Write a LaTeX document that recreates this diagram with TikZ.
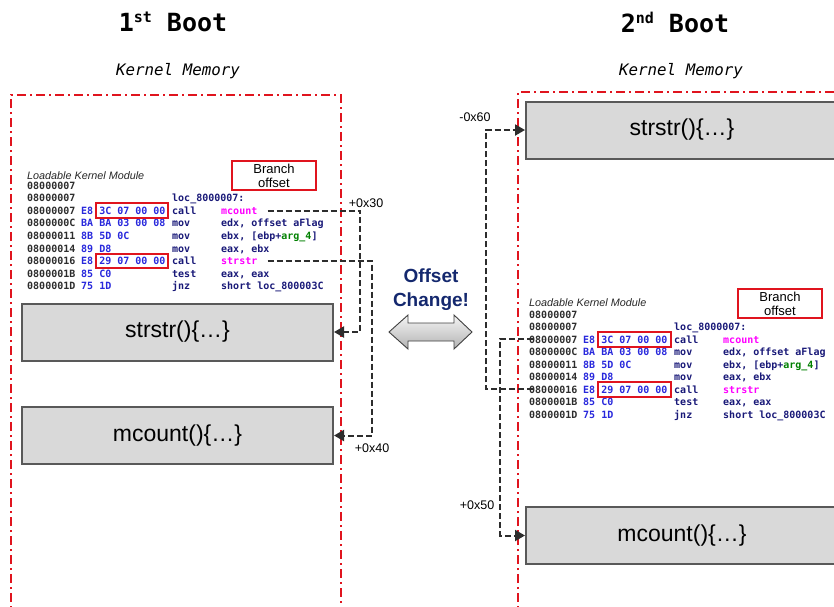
\documentclass[tikz,border=0pt]{standalone}
\usepackage{fontspec}
\setmainfont{Liberation Sans}
\newfontfamily\monofam{DejaVu Sans Mono}
\usetikzlibrary{arrows.meta}
\definecolor{panelred}{RGB}{224,20,30}
\definecolor{navy}{RGB}{20,40,110}
\definecolor{addrc}{RGB}{45,45,45}
\definecolor{bytec}{RGB}{40,40,220}
\definecolor{opc}{RGB}{25,25,120}
\definecolor{namec}{RGB}{255,0,255}
\definecolor{argc}{RGB}{0,128,0}
\definecolor{boxfill}{RGB}{217,217,217}
\definecolor{boxline}{RGB}{89,89,89}
\definecolor{connc}{RGB}{45,45,45}
\tikzset{
 panel/.style={draw=panelred, line width=2pt, dash pattern=on 9pt off 4pt on 2pt off 4pt},
 funcbox/.style={draw=boxline, fill=boxfill, line width=2pt, minimum width=311pt, minimum height=57pt, font=\fontsize{23}{26}\selectfont, inner sep=0pt},
 code/.style={anchor=base west, inner sep=0pt, font=\monofam\bfseries\fontsize{10}{12}\selectfont},
 hl/.style={draw=panelred, line width=1.7pt},
 conn/.style={draw=connc, line width=2pt, dash pattern=on 6pt off 3pt, -{Triangle[length=10pt,width=11pt]}},
 offlbl/.style={font=\fontsize{12.5}{14}\selectfont, inner sep=0pt},
 titlelbl/.style={font=\monofam\bfseries\fontsize{25}{30}\selectfont, anchor=base, inner sep=0pt},
 kmem/.style={font=\monofam\itshape\fontsize{15.8}{18}\selectfont, anchor=base, inner sep=0pt},
 lkm/.style={font=\itshape\fontsize{10.8}{12}\selectfont, anchor=base west, inner sep=0pt, text=black!85},
 branchbox/.style={draw=panelred, line width=1.7pt, minimum width=84pt, minimum height=29pt, inner sep=0pt, align=center, font=\fontsize{13}{14}\selectfont},
}
\newcommand{\codeln}[7]{%
 \node[code, text=addrc] (#1a) at (#2,#3) {#4};
 \node[code, text=bytec] (#1b) at (#2+54,#3) {#5};
 \node[code, text=opc] (#1m) at (#2+145,#3) {#6};
 \node[code, text=opc] (#1o) at (#2+194,#3) {#7};
}
\newcommand{\codeblock}[4]{% prefix, x, y0, dy
 \codeln{#1x1}{#2}{#3}{08000007}{}{}{}
 \codeln{#1x2}{#2}{#3+#4}{08000007}{}{loc\_8000007:}{}
 \codeln{#1x3}{#2}{#3+2*#4}{08000007}{E8 3C 07 00 00}{call}{\textcolor{namec}{mcount}}
 \codeln{#1x4}{#2}{#3+3*#4}{0800000C}{BA BA 03 00 08}{mov}{edx, offset aFlag}
 \codeln{#1x5}{#2}{#3+4*#4}{08000011}{8B 5D 0C}{mov}{ebx, [ebp+\textcolor{argc}{arg\_4}]}
 \codeln{#1x6}{#2}{#3+5*#4}{08000014}{89 D8}{mov}{eax, ebx}
 \codeln{#1x7}{#2}{#3+6*#4}{08000016}{E8 29 07 00 00}{call}{\textcolor{namec}{strstr}}
 \codeln{#1x8}{#2}{#3+7*#4}{0800001B}{85 C0}{test}{eax, eax}
 \codeln{#1x9}{#2}{#3+8*#4}{0800001D}{75 1D}{jnz}{short loc\_800003C}
}
\begin{document}
\begin{tikzpicture}[x=1pt,y=-1pt]
\useasboundingbox (0,0) rectangle (834,606);
\clip (0,0) rectangle (834,606);

% titles
\node[titlelbl] (t1st) at (173,31) {1\raisebox{9pt}{\fontsize{15}{15}\selectfont st} Boot};
\node[titlelbl] (t2nd) at (675,32) {2\raisebox{9pt}{\fontsize{15}{15}\selectfont nd} Boot};
\node[kmem] (km1) at (178,75) {Kernel Memory};
\node[kmem] (km2) at (681,75) {Kernel Memory};

% panels
\draw[panel] (11,640) -- (11,95) -- (341,95) -- (341,640);
\draw[panel] (518,640) -- (518,92) -- (860,92);

% left code
\node[lkm] (lkmL) at (27,179) {Loadable Kernel Module};
\codeblock{L}{27}{189}{12.6}
\draw[hl] (96,203) rectangle (168,218);
\draw[hl] (96,254) rectangle (168,268);
\node[branchbox] (boL) at (274,175.5) {Branch\\offset};

% left function boxes
\node[funcbox] (s1) at (177.5,332) {strstr()\{…\}};
\node[funcbox] (m1) at (177.5,435.5) {mcount()\{…\}};

% right function boxes
\node[funcbox, minimum width=312pt] (s2) at (682,130) {strstr()\{…\}};
\node[funcbox, minimum width=312pt] (m2) at (682,535.5) {mcount()\{…\}};

% right code
\node[lkm] (lkmR) at (529,306) {Loadable Kernel Module};
\codeblock{R}{529}{318}{12.5}
\draw[hl] (598,332) rectangle (671,347);
\draw[hl] (598,382) rectangle (671,397);
\node[branchbox] (boR) at (780,303.5) {Branch\\offset};

% offset change
\node[font=\bfseries\fontsize{19}{24}\selectfont, text=navy, align=center, inner sep=0pt] (oc) at (431,290) {Offset\\Change!};
\shade[top color=gray!8, bottom color=gray!60, draw=black!75, line width=0.9pt]
 (389,332) -- (408,315) -- (408,323) -- (454,323) -- (454,315) -- (472,332)
 -- (454,349) -- (454,341) -- (408,341) -- (408,349) -- cycle;

% connectors left
\draw[conn] ([xshift=10pt]Lx3o.east) -| (360,332) -- (s1.east);
\draw[conn] ([xshift=10pt]Lx7o.east) -| (372,435.5) -- (m1.east);
\node[offlbl] (o30) at (366,203) {+0x30};
\node[offlbl] (o40) at (372,448) {+0x40};

% connectors right
\draw[conn] ([xshift=4pt]Rx7a.west) -| (486,130) -- (s2.west);
\draw[conn] ([xshift=4pt]Rx3a.west) -| (500,535.5) -- (m2.west);
\node[offlbl] (o60) at (475,117) {-0x60};
\node[offlbl] (o50) at (477,505) {+0x50};
\end{tikzpicture}
\end{document}
